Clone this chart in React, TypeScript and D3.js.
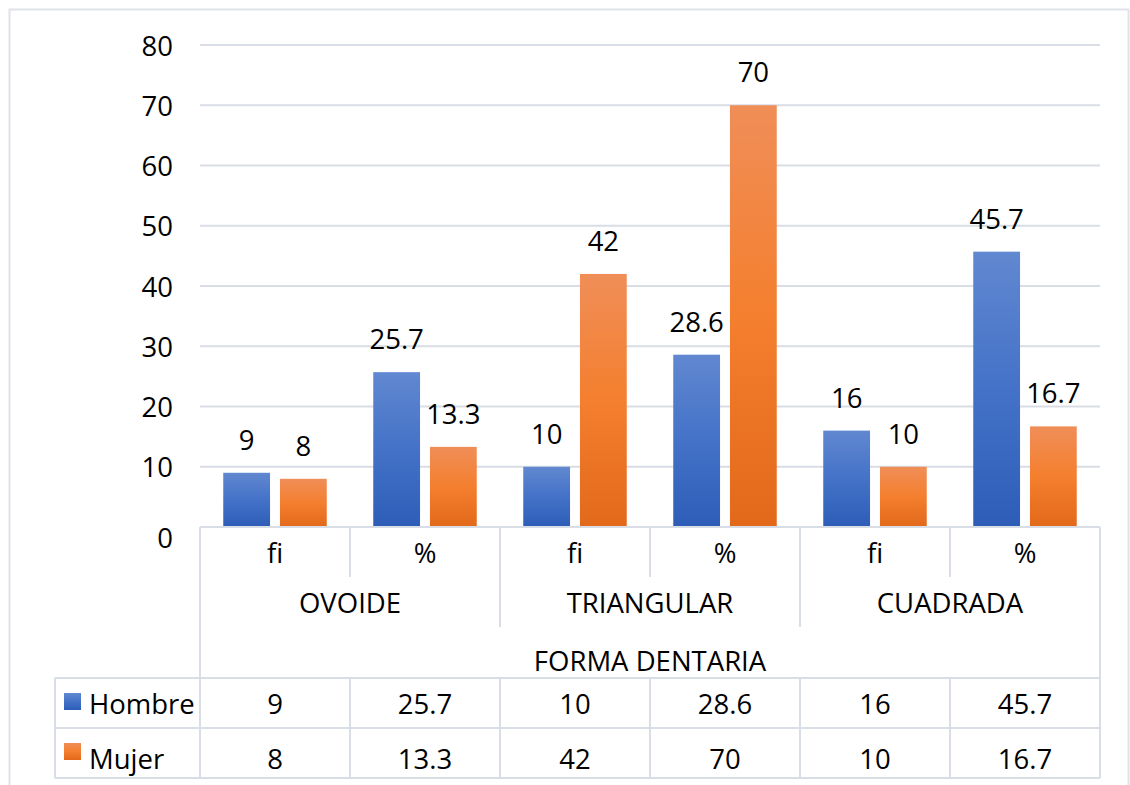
import React from "react";
import * as d3 from "d3";

const groups = ["OVOIDE", "TRIANGULAR", "CUADRADA"];
const subCats = ["fi", "%"];
const categories = ["OVOIDE|fi", "OVOIDE|%", "TRIANGULAR|fi", "TRIANGULAR|%", "CUADRADA|fi", "CUADRADA|%"];
const hombre = [9, 25.7, 10, 28.6, 16, 45.7];
const mujer = [8, 13.3, 42, 70, 10, 16.7];
const seriesNames = ["Hombre", "Mujer"];
const yTicks = [0, 10, 20, 30, 40, 50, 60, 70, 80];
const axisTitle = "FORMA DENTARIA";

const W = 1130;
const H = 785;
const plotL = 200;
const plotR = 1100;
const plotT = 45;
const plotB = 527;
const FONT = "'Open Sans', 'Liberation Sans', sans-serif";
const FS = 27.5;
const GRID = "#d9dde6";

export default function App() {
  const x = d3.scaleBand<string>().domain(categories).range([plotL, plotR]).paddingInner(0).paddingOuter(0);
  const y = d3.scaleLinear().domain([0, 80]).range([plotB, plotT]);
  const inner = d3.scaleBand<string>().domain(seriesNames).range([0, x.bandwidth()]).paddingInner(0.175).paddingOuter(0.41);
  const series = [hombre, mujer];
  const colW = x.bandwidth();
  const rowH = 50;
  const subRowB = plotB + 50;
  const groupRowB = plotB + 100;
  const titleRowB = plotB + 151;
  const tableRows = [titleRowB, titleRowB + rowH, titleRowB + 2 * rowH];
  const tableL = 55;

  return (
    <svg width={W} height={H} style={{ position: "absolute", left: 0, top: 0, background: "#fff" }} fontFamily={FONT}>
      <defs>
        <linearGradient id="gBlue" x1="0" y1="0" x2="0" y2="1">
          <stop offset="0" stopColor="#6188d0" />
          <stop offset="0.5" stopColor="#4472c8" />
          <stop offset="1" stopColor="#2d5db7" />
        </linearGradient>
        <linearGradient id="gOrange" x1="0" y1="0" x2="0" y2="1">
          <stop offset="0" stopColor="#f08e58" />
          <stop offset="0.5" stopColor="#f47f2e" />
          <stop offset="1" stopColor="#e2691a" />
        </linearGradient>
      </defs>
      <rect x={9.5} y={9.5} width={1119} height={800} fill="#fff" stroke="#dfe2e8" strokeWidth={2} />
      {/* gridlines */}
      {yTicks.filter((t) => t > 0).map((t) => (
        <line key={t} x1={plotL} x2={plotR} y1={y(t)} y2={y(t)} stroke={GRID} strokeWidth={1.8} />
      ))}
      {/* y tick labels */}
      {yTicks.map((t) => (
        <text key={t} x={173} y={y(t) + (t === 0 ? 10 : 0)} textAnchor="end" dominantBaseline="central" fontSize={FS} fill="#000">
          {t}
        </text>
      ))}
      {/* bars */}
      {series.map((vals, si) =>
        vals.map((v, i) => {
          const bx = (x(categories[i]) as number) + (inner(seriesNames[si]) as number);
          return (
            <g key={si + "-" + i}>
              <rect x={bx} y={y(v)} width={inner.bandwidth()} height={plotB - y(v)} fill={si === 0 ? "url(#gBlue)" : "url(#gOrange)"} />
              <text x={bx + inner.bandwidth() / 2} y={y(v) - 23} textAnchor="middle" fontSize={FS} fill="#000">
                {v}
              </text>
            </g>
          );
        })
      )}
      {/* axis/table lines */}
      <g stroke={GRID} strokeWidth={2}>
        <line x1={plotL} x2={plotR} y1={plotB} y2={plotB} />
        <line x1={plotL} x2={plotL} y1={plotB} y2={tableRows[2]} />
        <line x1={plotR} x2={plotR} y1={plotB} y2={tableRows[2]} />
        {categories.map((c, i) =>
          i === 0 ? null : (
            <line key={c} x1={x(c)} x2={x(c)} y1={plotB} y2={i % 2 === 0 ? groupRowB : subRowB} />
          )
        )}
        {tableRows.map((ry) => (
          <line key={ry} x1={tableL} x2={plotR} y1={ry} y2={ry} />
        ))}
        <line x1={tableL} x2={tableL} y1={tableRows[0]} y2={tableRows[2]} />
        {categories.map((c, i) =>
          i === 0 ? null : <line key={"t" + c} x1={x(c)} x2={x(c)} y1={tableRows[0]} y2={tableRows[2]} />
        )}
      </g>
      {/* sub category labels */}
      {categories.map((c, i) => (
        <text key={"s" + c} x={(x(c) as number) + colW / 2} y={plotB + 25} textAnchor="middle" dominantBaseline="central" fontSize={FS}>
          {subCats[i % 2]}
        </text>
      ))}
      {groups.map((g, gi) => (
        <text key={g} x={plotL + colW * (2 * gi + 1)} y={plotB + 75} textAnchor="middle" dominantBaseline="central" fontSize={FS}>
          {g}
        </text>
      ))}
      <text x={(plotL + plotR) / 2} y={plotB + 133} textAnchor="middle" dominantBaseline="central" fontSize={FS}>
        {axisTitle}
      </text>
      {/* data table */}
      {series.map((vals, si) => {
        const cy = tableRows[si] + rowH / 2;
        return (
          <g key={"row" + si}>
            <rect x={64} y={tableRows[si] + 15} width={17} height={17} fill={si === 0 ? "url(#gBlue)" : "url(#gOrange)"} />
            <text x={89} y={cy + (si === 1 ? 5 : 0)} dominantBaseline="central" fontSize={FS}>
              {seriesNames[si]}
            </text>
            {vals.map((v, i) => (
              <text key={i} x={(x(categories[i]) as number) + colW / 2} y={cy + (si === 1 ? 5 : 0)} textAnchor="middle" dominantBaseline="central" fontSize={FS}>
                {v}
              </text>
            ))}
          </g>
        );
      })}
    </svg>
  );
}
